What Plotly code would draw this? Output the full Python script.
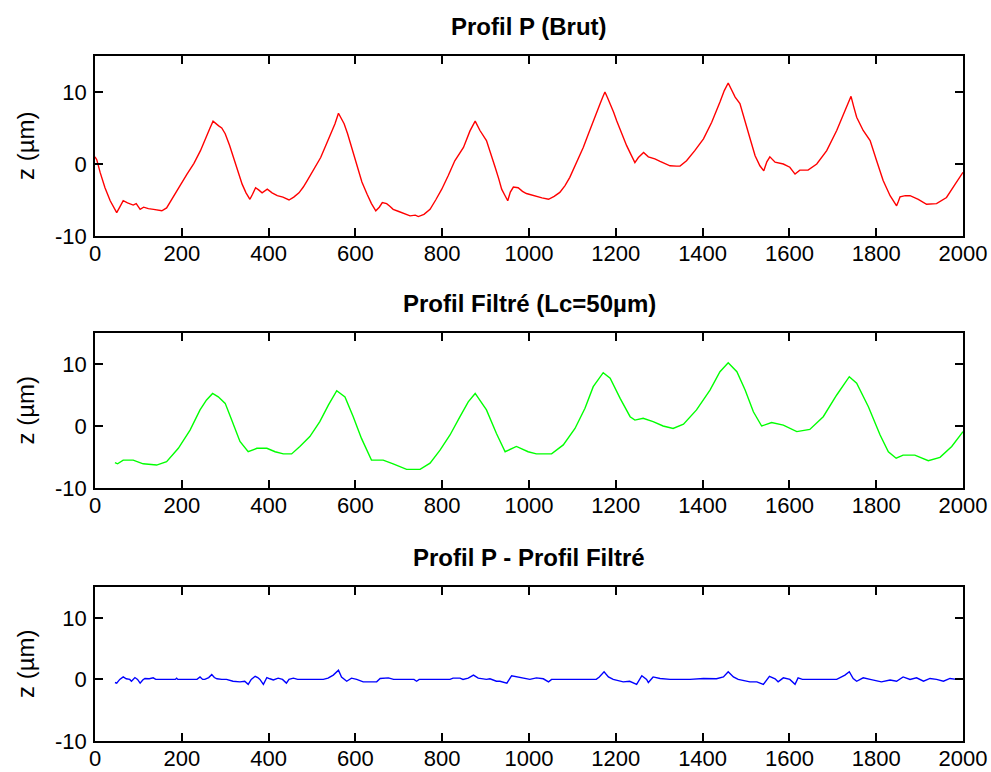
import plotly.graph_objects as go

# Raw profile P (x in µm, z in µm)
raw_x = [0, 4, 12, 23, 35, 44, 50, 57, 65, 75, 88, 95, 104, 112, 123, 135, 154, 165, 181, 197,
         212, 228, 243, 250, 258, 265, 272, 278, 285, 292, 300, 310, 320, 330, 339, 348, 357, 363,
         370, 377, 385, 397, 408, 420, 433, 447, 458, 470, 480, 489, 505, 520, 532, 543, 553, 561,
         567, 574, 582, 589, 597, 604, 615, 627, 637, 647, 655, 662, 672, 680, 687, 700, 713, 726,
         738, 745, 758, 772, 785, 799, 814, 829, 849, 857, 864, 876, 881, 887, 902, 912, 922, 930,
         937, 944, 951, 957, 964, 975, 985, 994, 1005, 1017, 1030, 1045, 1058, 1071, 1083, 1094,
         1110, 1125, 1137, 1148, 1156, 1164, 1170, 1175, 1181, 1187, 1195, 1202, 1213, 1225, 1235,
         1244, 1252, 1264, 1275, 1290, 1302, 1315, 1325, 1340, 1348, 1363, 1382, 1402, 1421, 1440,
         1450, 1459, 1466, 1475, 1486, 1501, 1511, 1521, 1532, 1541, 1548, 1555, 1567, 1586, 1601,
         1613, 1624, 1643, 1663, 1686, 1709, 1728, 1742, 1748, 1755, 1770, 1786, 1801, 1816, 1832,
         1847, 1851, 1855, 1867, 1878, 1897, 1916, 1939, 1962, 1982, 2000]
raw_z = [1.0, 0.6, -1.2, -3.3, -5.1, -6.2, -6.75, -6.0, -5.1, -5.4, -5.7, -5.5, -6.3, -6.0, -6.2,
         -6.3, -6.5, -6.1, -4.4, -2.9, -1.4, 0.1, 1.85, 2.9, 4.2, 5.0, 5.95, 5.6, 5.3, 5.0, 4.2, 2.6,
         0.7, -1.2, -2.8, -4.0, -4.9, -4.2, -3.3, -3.6, -4.0, -3.5, -4.0, -4.4, -4.6, -5.0, -4.6,
         -4.0, -3.2, -2.3, -0.7, 0.9, 2.6, 4.2, 5.6, 7.05, 6.3, 5.6, 4.2, 2.8, 1.1, -0.5, -2.5, -4.2,
         -5.5, -6.5, -6.0, -5.35, -5.5, -5.9, -6.3, -6.6, -6.9, -7.2, -7.1, -7.3, -7.0, -6.3, -5.0,
         -3.5, -1.6, 0.45, 2.3, 3.5, 4.6, 5.95, 5.3, 4.65, 3.25, 1.5, -0.45, -2.0, -3.5, -4.3, -5.1,
         -3.9, -3.2, -3.3, -3.8, -4.1, -4.3, -4.55, -4.7, -4.9, -4.5, -3.95, -3.0, -1.85, 0.3, 2.3,
         4.2, 6.0, 7.2, 8.4, 9.3, 10.0, 9.2, 8.4, 7.2, 6.0, 4.3, 2.55, 1.3, 0.2, 0.9, 1.6, 1.0, 0.7,
         0.35, 0.0, -0.25, -0.3, -0.3, 0.45, 1.85, 3.5, 5.8, 8.6, 10.2, 11.25, 10.4, 9.3, 8.4, 5.1,
         3.2, 1.15, -0.25, -0.95, 0.3, 1.0, 0.25, 0.0, -0.45, -1.4, -0.85, -0.85, 0.0, 1.85, 4.65,
         7.4, 9.4, 8.0, 6.5, 4.65, 3.25, 0.45, -2.3, -4.4, -5.8, -5.2, -4.55, -4.4, -4.4, -4.9,
         -5.6, -5.5, -4.65, -2.8, -1.15]

# Filtered profile (cut-off Lc = 50 µm)
filt_x = [46, 52, 65, 88, 111, 142, 165, 192, 219, 242, 257, 271, 284, 300, 315, 334, 353, 373,
          396, 415, 434, 453, 472, 495, 518, 538, 557, 576, 595, 614, 637, 664, 687, 718, 749, 772,
          795, 818, 841, 860, 876, 902, 925, 945, 971, 998, 1017, 1052, 1079, 1106, 1129, 1148,
          1171, 1187, 1210, 1233, 1244, 1263, 1286, 1309, 1332, 1356, 1386, 1417, 1440, 1459, 1479,
          1498, 1517, 1536, 1559, 1586, 1617, 1647, 1678, 1709, 1738, 1755, 1782, 1809, 1828, 1846,
          1862, 1889, 1920, 1947, 1974, 2000]
filt_z = [-5.9, -6.1, -5.5, -5.5, -6.1, -6.3, -5.75, -3.6, -0.65, 2.6, 4.2, 5.25, 4.7, 3.65, 0.95,
          -2.5, -4.15, -3.6, -3.6, -4.15, -4.5, -4.5, -3.3, -1.7, 0.7, 3.4, 5.7, 4.7, 1.5, -2.0,
          -5.5, -5.5, -6.1, -7.0, -7.0, -6.0, -3.9, -1.45, 1.5, 3.9, 5.25, 2.6, -1.2, -4.15, -3.3,
          -4.15, -4.5, -4.5, -3.05, -0.4, 2.85, 6.35, 8.6, 7.7, 4.45, 1.5, 0.95, 1.25, 0.7, 0.0,
          -0.4, 0.3, 2.6, 5.8, 8.75, 10.2, 8.75, 5.8, 2.3, 0.0, 0.55, 0.15, -0.9, -0.55, 1.5, 5.0,
          7.95, 6.9, 3.1, -1.45, -4.15, -5.2, -4.7, -4.7, -5.6, -5.05, -3.3, -0.9]

# Residual: raw profile minus filtered profile
diff_x = [46, 50, 57, 65, 72, 80, 84, 92, 98, 104, 110, 115, 125, 134, 140, 185, 188, 191, 235,
          242, 248, 253, 262, 269, 275, 281, 292, 303, 318, 334, 345, 353, 360, 369, 375, 380, 388,
          396, 403, 411, 422, 432, 441, 447, 457, 467, 526, 537, 549, 561, 568, 575, 580, 591, 603,
          618, 649, 657, 676, 688, 735, 741, 747, 818, 825, 841, 848, 860, 872, 883, 902, 910, 925,
          933, 949, 960, 972, 987, 1002, 1017, 1033, 1045, 1052, 1155, 1162, 1173, 1183, 1194,
          1217, 1232, 1248, 1260, 1271, 1275, 1286, 1302, 1325, 1371, 1402, 1432, 1448, 1459, 1471,
          1482, 1509, 1525, 1540, 1554, 1567, 1574, 1586, 1601, 1613, 1620, 1630, 1709, 1717, 1728,
          1738, 1747, 1755, 1770, 1786, 1812, 1832, 1847, 1862, 1878, 1893, 1909, 1924, 1939, 1955,
          1970, 1985, 2000]
diff_z = [-0.5, -0.6, 0.0, 0.4, 0.1, 0.0, -0.3, 0.3, 0.0, -0.6, -0.1, 0.15, 0.1, 0.25, 0.0, 0.0,
          0.2, 0.0, 0.0, 0.4, 0.0, 0.0, 0.3, 0.8, 0.3, 0.1, 0.0, 0.0, -0.3, -0.4, -0.3, -0.8, 0.0,
          0.5, 0.3, 0.0, -0.8, 0.3, 0.1, -0.1, 0.2, 0.0, -0.6, 0.0, 0.2, 0.0, 0.0, 0.2, 0.7, 1.5,
          0.4, 0.0, -0.3, 0.2, 0.0, -0.4, -0.4, 0.15, 0.25, 0.0, 0.0, -0.3, 0.0, 0.0, 0.2, 0.2, 0.0,
          0.2, 0.7, 0.2, 0.0, 0.1, -0.3, -0.3, -0.6, 0.6, 0.4, 0.15, 0.0, 0.25, 0.1, -0.4, 0.0, 0.0,
          0.4, 1.25, 0.4, 0.0, -0.4, -0.3, -0.8, 0.6, 0.0, -0.5, 0.4, 0.15, 0.0, 0.0, 0.15, 0.1,
          0.4, 1.25, 0.4, 0.0, -0.4, -0.4, -0.8, 0.5, 0.1, -0.4, 0.25, 0.0, -0.8, 0.25, 0.0, 0.0,
          0.25, 0.7, 1.25, 0.15, -0.3, 0.25, 0.0, -0.4, -0.1, -0.3, 0.4, 0.0, 0.25, -0.3, 0.15, 0.0,
          -0.3, 0.15, 0.0, 0.0]

titles = ["Profil P (Brut)", "Profil Filtré (Lc=50µm)", "Profil P - Profil Filtré"]
y_label = "z (µm)"
x_ticks = [0, 200, 400, 600, 800, 1000, 1200, 1400, 1600, 1800, 2000]
y_ticks = [-10, 0, 10]
y_tick_text = ["-10", "0", "10"]

W, H = 991, 772
plot_left, plot_right = 95, 963
# (top, bottom) pixel rows of each panel
panels = [(56, 236), (333, 488), (587, 741)]

font = "Liberation Sans, Arial, sans-serif"
series = [(raw_x, raw_z, "#ff0000"), (filt_x, filt_z, "#00ff00"), (diff_x, diff_z, "#0000ff")]

fig = go.Figure()
layout = dict(
    width=W, height=H,
    margin=dict(l=0, r=0, t=0, b=0),
    paper_bgcolor="white", plot_bgcolor="white",
    showlegend=False,
    annotations=[],
)

for i, ((xs, zs, col), (top, bot)) in enumerate(zip(series, panels)):
    n = "" if i == 0 else str(i + 1)
    fig.add_trace(go.Scatter(x=xs, y=zs, mode="lines", line=dict(color=col, width=1.4),
                             xaxis="x" + n, yaxis="y" + n, hoverinfo="skip"))
    common = dict(
        showline=True, linecolor="black", linewidth=1.5, mirror="ticks",
        ticks="inside", ticklen=8, tickwidth=1.5, tickcolor="black",
        showgrid=False, zeroline=False, automargin=False,
        tickfont=dict(family=font, size=22, color="black"),
    )
    layout["xaxis" + n] = dict(
        common, domain=[plot_left / W, plot_right / W], range=[0, 2000],
        tickvals=x_ticks, anchor="y" + n, ticklabelstandoff=-3,
    )
    layout["yaxis" + n] = dict(
        common, domain=[1 - bot / H, 1 - top / H], range=[-10, 15],
        tickvals=y_ticks, ticktext=y_tick_text, anchor="x" + n, ticklabelstandoff=2,
    )
    layout["annotations"].append(dict(
        text="<b>" + titles[i] + "</b>", xref="paper", yref="paper",
        x=(plot_left + plot_right) / 2 / W, y=1 - (top - 30) / H,
        xanchor="center", yanchor="middle", showarrow=False,
        font=dict(family=font, size=24, color="black"),
    ))
    layout["annotations"].append(dict(
        text=y_label, xref="paper", yref="paper",
        x=25 / W, y=1 - (top + bot) / 2 / H, textangle=-90,
        xanchor="center", yanchor="middle", showarrow=False,
        font=dict(family=font, size=24, color="black"),
    ))

fig.update_layout(**layout)
fig.write_html("out.html")
